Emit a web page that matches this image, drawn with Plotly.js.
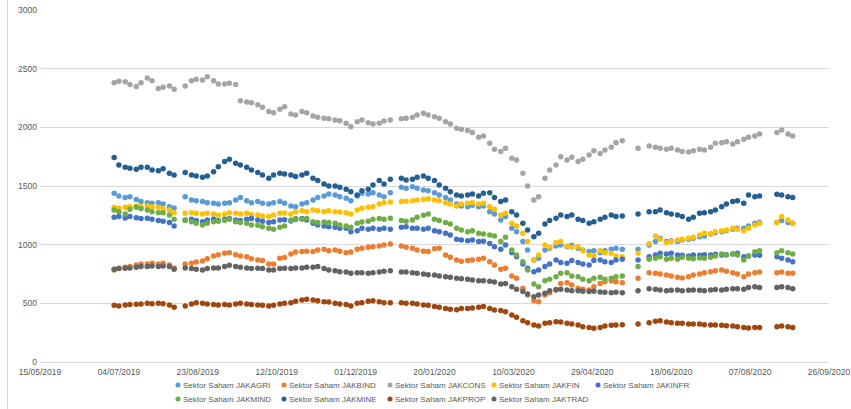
<!DOCTYPE html>
<html>
<head>
<meta charset="utf-8">
<script src="https://cdn.plot.ly/plotly-3.0.1.min.js"></script>
<style>
  html, body { margin: 0; padding: 0; background: #ffffff; }
  #chart { width: 851px; height: 409px; }
</style>
</head>
<body>
<div id="chart"></div>
<script>
// Trading days sampled twice a week (Mon / Thu), July 2019 – September 2020
const dates = [
  "2019-07-01","2019-07-04","2019-07-08","2019-07-11","2019-07-15","2019-07-18","2019-07-22","2019-07-25","2019-07-29",
  "2019-08-01","2019-08-05","2019-08-08","2019-08-15","2019-08-19","2019-08-22","2019-08-26","2019-08-29",
  "2019-09-02","2019-09-05","2019-09-09","2019-09-12","2019-09-16","2019-09-19","2019-09-23","2019-09-26","2019-09-30",
  "2019-10-03","2019-10-07","2019-10-10","2019-10-14","2019-10-17","2019-10-21","2019-10-24","2019-10-28","2019-10-31",
  "2019-11-04","2019-11-07","2019-11-11","2019-11-14","2019-11-18","2019-11-21","2019-11-25","2019-11-28",
  "2019-12-02","2019-12-05","2019-12-09","2019-12-12","2019-12-16","2019-12-19","2019-12-23","2019-12-30",
  "2020-01-02","2020-01-06","2020-01-09","2020-01-13","2020-01-16","2020-01-20","2020-01-23","2020-01-27","2020-01-30",
  "2020-02-03","2020-02-06","2020-02-10","2020-02-13","2020-02-17","2020-02-20","2020-02-24","2020-02-27",
  "2020-03-02","2020-03-05","2020-03-09","2020-03-12","2020-03-16","2020-03-19","2020-03-23","2020-03-26","2020-03-30",
  "2020-04-02","2020-04-06","2020-04-09","2020-04-13","2020-04-16","2020-04-20","2020-04-23","2020-04-27","2020-04-30",
  "2020-05-04","2020-05-07","2020-05-11","2020-05-14","2020-05-18","2020-05-28",
  "2020-06-04","2020-06-08","2020-06-11","2020-06-15","2020-06-18","2020-06-22","2020-06-25","2020-06-29",
  "2020-07-02","2020-07-06","2020-07-09","2020-07-13","2020-07-16","2020-07-20","2020-07-23","2020-07-27","2020-07-30",
  "2020-08-03","2020-08-06","2020-08-10","2020-08-13","2020-08-24","2020-08-27","2020-08-31",
  "2020-09-03"
];

const seriesNames = [
  "Sektor Saham JAKAGRI", "Sektor Saham JAKBIND", "Sektor Saham JAKCONS",
  "Sektor Saham JAKFIN", "Sektor Saham JAKINFR", "Sektor Saham JAKMIND",
  "Sektor Saham JAKMINE", "Sektor Saham JAKPROP", "Sektor Saham JAKTRAD"
];

const jakagri = [
  1438,1415,1403,1409,1386,1367,1358,1352,1358,
  1347,1324,1313,1409,1381,1375,1367,1358,
  1352,1347,1352,1358,1381,1403,1375,1358,1367,
  1352,1347,1358,1367,1352,1330,1324,1347,1358,
  1381,1403,1415,1432,1423,1409,1395,1375,
  1415,1438,1432,1443,1423,1409,1443,1489,
  1480,1494,1480,1466,1460,1443,1423,1403,1381,
  1347,1330,1324,1335,1324,1330,1281,1261,
  1210,1239,1139,1111,1026,955,869,884,955,
  969,989,997,983,994,969,955,941,949,
  932,949,960,969,960,960,
  997,1026,1054,1026,1034,1026,1040,1046,
  1054,1068,1074,1091,1102,1111,1119,1131,1139,
  1139,1159,1182,1190,1188,1205,1188,
  1182
];

const jakbind = [
  784,798,807,813,827,835,835,841,835,
  841,827,801,835,841,852,861,881,
  904,915,926,932,915,904,898,881,869,
  864,835,835,884,890,921,938,941,943,
  941,955,960,949,955,943,932,938,
  960,969,977,983,989,997,1006,989,
  977,969,955,943,941,966,969,912,892,
  869,858,864,869,875,884,855,827,
  790,798,733,713,628,571,523,514,571,
  591,619,670,676,656,628,619,614,642,
  670,685,693,685,676,713,
  761,756,750,742,733,722,716,727,
  742,750,761,770,778,784,773,761,750,
  727,750,761,767,761,767,756,
  756
];

const jakcons = [
  2381,2392,2389,2364,2347,2381,2421,2398,2332,
  2341,2352,2324,2352,2398,2409,2404,2432,
  2398,2369,2369,2375,2364,2227,2216,2210,2193,
  2171,2134,2125,2154,2176,2114,2105,2134,2125,
  2097,2085,2077,2074,2063,2057,2034,2006,
  2048,2063,2040,2029,2034,2054,2063,2074,
  2077,2085,2105,2119,2105,2091,2077,2048,2029,
  1992,1983,1972,1955,1915,1926,1864,1813,
  1793,1821,1736,1722,1608,1500,1381,1409,1565,
  1636,1679,1750,1722,1744,1708,1727,1764,1801,
  1778,1807,1830,1869,1886,1821,
  1841,1830,1821,1813,1821,1807,1793,1790,
  1801,1813,1807,1830,1864,1869,1878,1858,1878,
  1898,1915,1926,1943,1955,1977,1943,
  1926
];

const jakfin = [
  1318,1310,1318,1324,1330,1324,1330,1324,1318,
  1307,1296,1273,1267,1273,1267,1261,1267,
  1261,1253,1261,1273,1267,1261,1267,1258,1253,
  1244,1239,1253,1267,1270,1261,1281,1290,1281,
  1296,1290,1281,1290,1281,1279,1273,1261,
  1296,1310,1318,1324,1347,1358,1364,1367,
  1369,1375,1381,1386,1392,1381,1375,1358,1347,
  1330,1347,1352,1358,1347,1352,1324,1301,
  1253,1267,1182,1159,1097,1026,869,912,997,
  977,1017,1026,989,977,983,949,912,903,
  949,932,926,903,898,926,
  1011,1074,1046,1017,1026,1040,1046,1054,
  1063,1083,1097,1091,1111,1119,1125,1139,1131,
  1119,1139,1168,1182,1188,1239,1210,
  1182
];

const jakinfr = [
  1233,1239,1227,1239,1230,1222,1225,1216,1205,
  1199,1188,1159,1210,1216,1205,1196,1210,
  1216,1205,1216,1222,1210,1205,1216,1222,1210,
  1199,1188,1196,1210,1213,1202,1216,1222,1210,
  1182,1168,1159,1153,1148,1139,1139,1111,
  1119,1139,1131,1139,1131,1139,1131,1148,
  1153,1139,1139,1131,1139,1119,1111,1097,1082,
  1046,1040,1034,1040,1026,1029,1011,983,
  960,997,932,898,835,798,770,784,813,
  835,869,847,841,864,847,835,827,864,
  869,855,847,869,875,869,
  898,912,926,921,926,912,909,904,
  912,909,915,912,918,912,915,921,926,
  898,904,912,909,898,884,869,
  855
];

const jakmind = [
  1296,1281,1261,1301,1318,1307,1296,1281,1273,
  1273,1253,1216,1205,1196,1182,1168,1182,
  1196,1199,1205,1216,1196,1188,1182,1168,1165,
  1153,1139,1131,1148,1159,1210,1222,1216,1222,
  1196,1188,1193,1188,1182,1168,1159,1148,
  1182,1193,1199,1216,1222,1216,1225,1205,
  1199,1210,1233,1250,1261,1216,1205,1188,1176,
  1139,1125,1111,1119,1097,1091,1082,1074,
  1026,1063,955,912,855,784,665,642,693,
  705,727,756,761,733,727,705,693,713,
  722,705,713,727,733,813,
  875,884,898,875,884,875,892,884,
  881,886,884,892,904,921,912,921,912,
  869,904,940,949,932,949,932,
  921
];

const jakmine = [
  1742,1679,1659,1651,1642,1659,1659,1636,1631,
  1648,1608,1594,1614,1594,1585,1574,1585,
  1622,1665,1708,1727,1693,1679,1659,1636,1614,
  1594,1565,1594,1608,1602,1594,1580,1594,1608,
  1565,1546,1517,1500,1500,1489,1472,1452,
  1423,1460,1472,1509,1546,1517,1557,1565,
  1551,1557,1574,1585,1565,1546,1509,1480,1452,
  1423,1415,1423,1432,1415,1438,1443,1403,
  1367,1381,1281,1253,1182,1125,1068,1097,1176,
  1205,1225,1253,1239,1253,1216,1205,1182,1196,
  1216,1233,1253,1239,1244,1261,
  1281,1281,1296,1273,1261,1253,1239,1216,
  1233,1267,1273,1281,1296,1324,1347,1367,1375,
  1352,1423,1409,1415,1429,1423,1409,
  1401
];

const jakprop = [
  483,477,486,489,492,494,500,497,500,
  497,486,466,477,494,506,500,494,
  489,486,489,486,494,500,494,489,486,
  483,477,483,494,500,506,517,528,534,
  528,523,514,511,500,494,489,477,
  500,506,517,523,514,506,506,506,
  500,500,494,486,483,472,466,457,449,
  445,455,457,460,466,472,457,443,
  438,429,401,381,352,335,315,307,330,
  335,344,341,330,324,315,301,295,287,
  295,307,313,315,318,324,
  335,347,352,341,335,330,330,324,
  324,324,318,315,315,313,310,307,301,
  293,290,295,295,301,307,301,
  295
];

const jaktrad = [
  790,796,798,801,807,813,813,818,813,
  818,813,790,801,796,790,784,796,
  801,801,813,824,813,807,801,796,798,
  796,784,784,796,798,796,801,801,807,
  807,813,796,784,778,770,767,756,
  761,761,756,761,767,773,778,767,
  767,761,756,750,744,742,733,727,722,
  713,710,705,699,693,693,688,682,
  665,670,642,619,600,580,557,571,585,
  608,614,619,614,608,608,602,600,602,
  597,594,591,594,591,608,
  625,619,614,608,611,614,608,611,
  614,611,608,614,617,614,619,625,625,
  619,636,642,636,636,642,634,
  625
];

const seriesValues = [jakagri, jakbind, jakcons, jakfin, jakinfr, jakmind, jakmine, jakprop, jaktrad];
const seriesColors = ["#5B9BD5", "#ED7D31", "#A5A5A5", "#FFC000", "#4472C4", "#70AD47", "#255E91", "#9E480E", "#636363"];

// x-axis ticks every 50 days starting 15/05/2019
const xStart = "2019-05-15";
const xEnd = "2020-09-26";
const DAY_MS = 86400000;

const textColor = "#595959";
const gridColor = "#D9D9D9";
const fontFamily = "'Liberation Sans', Arial, sans-serif";

const W = 851, H = 409;
const M = { l: 40, r: 22, t: 10, b: 47 };
const plotW = W - M.l - M.r;
const plotH = H - M.t - M.b;
// pixel position on the page -> paper coordinates of the plot area
const px2x = px => (px - M.l) / plotW;
const py2y = py => (H - M.b - py) / plotH;

const traces = seriesNames.map((name, i) => ({
  type: "scatter",
  mode: "markers",
  name: name,
  x: dates,
  y: seriesValues[i],
  marker: { color: seriesColors[i], size: 5.5, line: { width: 0 } },
  showlegend: false,
  hoverinfo: "skip"
}));

// Legend: two rows of five and four entries, laid out under the x axis
const legendCols = [178, 284, 390, 494, 598];
const legendRows = [385, 399];
const legendShapes = [];
const legendLabels = [];
seriesNames.forEach((name, i) => {
  const row = i < 5 ? 0 : 1;
  const col = i < 5 ? i : i - 5;
  const cx = legendCols[col], cy = legendRows[row];
  legendShapes.push({
    type: "circle",
    xref: "paper", yref: "paper",
    xsizemode: "pixel", ysizemode: "pixel",
    xanchor: px2x(cx), yanchor: py2y(cy),
    x0: -2.5, x1: 2.5, y0: -2.5, y1: 2.5,
    fillcolor: seriesColors[i],
    line: { width: 0 }
  });
  legendLabels.push({
    xref: "paper", yref: "paper",
    x: px2x(cx + 3), y: py2y(cy),
    xanchor: "left", yanchor: "middle",
    showarrow: false,
    text: name,
    font: { family: fontFamily, size: 8, color: textColor }
  });
});

const layout = {
  width: W,
  height: H,
  margin: M,
  paper_bgcolor: "#ffffff",
  plot_bgcolor: "#ffffff",
  font: { family: fontFamily, size: 8.5, color: textColor },
  showlegend: false,
  xaxis: {
    type: "date",
    range: [xStart, xEnd],
    tick0: xStart,
    dtick: 50 * DAY_MS,
    tickformat: "%d/%m/%Y",
    showgrid: false,
    zeroline: false,
    showline: true,
    linecolor: gridColor,
    linewidth: 1,
    ticks: "",
    ticklabelstandoff: 2,
    tickfont: { family: fontFamily, size: 8.5, color: textColor },
    fixedrange: true
  },
  yaxis: {
    range: [0, 3000],
    tick0: 0,
    dtick: 500,
    showgrid: true,
    gridcolor: gridColor,
    gridwidth: 1,
    zeroline: false,
    showline: false,
    ticks: "",
    ticklabelstandoff: 2,
    tickfont: { family: fontFamily, size: 8.5, color: textColor },
    fixedrange: true
  },
  annotations: legendLabels,
  shapes: [{
    type: "line",
    xref: "paper", yref: "paper",
    x0: px2x(7.5), x1: px2x(7.5),
    y0: py2y(409), y1: py2y(0),
    line: { color: gridColor, width: 1 }
  }].concat(legendShapes)
};

Plotly.newPlot("chart", traces, layout, { displayModeBar: false, staticPlot: true });
</script>
</body>
</html>
